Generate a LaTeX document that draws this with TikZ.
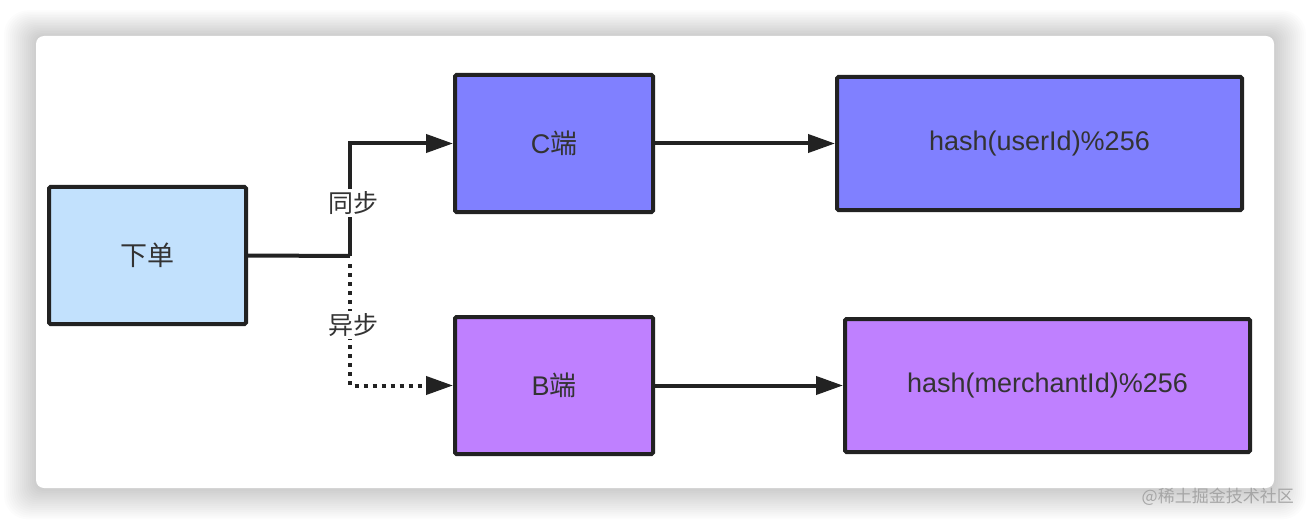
\documentclass[tikz,border=0pt]{standalone}
\usepackage{fontspec}
\setmainfont{Liberation Sans}
\newfontfamily\cjk{Noto Sans CJK SC}
\usetikzlibrary{arrows.meta}
\definecolor{txt}{HTML}{333333}
\definecolor{edge}{HTML}{222222}
\definecolor{lblue}{HTML}{C2E1FD}
\definecolor{cblue}{HTML}{8080FF}
\definecolor{bpurple}{HTML}{BF80FF}
\tikzset{
  box/.style={draw=edge, line width=4pt, rounded corners=1.5pt, text=txt, inner sep=0pt,
    font=\fontsize{27}{32}\selectfont},
  conn/.style={draw=edge, line width=4pt, -{Triangle[length=27pt,width=18pt]}},
  plainconn/.style={draw=edge, line width=4pt},
  lbl/.style={fill=white, text=txt, inner sep=2pt, font=\cjk\fontsize{25}{30}\selectfont},
}
\begin{document}
\begin{tikzpicture}[x=1pt,y=-1pt]
\useasboundingbox (0,0) rectangle (1310,524);
\fill[white] (0,0) rectangle (1310,524);
% card shadow
\foreach \i in {1,...,16}{
  \fill[black, opacity=0.011, rounded corners=8pt+\i pt]
    (36-2*\i,36-1.6*\i) rectangle (1274+2*\i,489+1.9*\i);
}
\fill[white, rounded corners=8pt] (36,36) rectangle (1274,488);
% nodes
\node[box, fill=lblue, minimum width=197pt, minimum height=137pt] (xd) at (147.5,255.5) {\cjk 下单};
\node[box, fill=cblue, minimum width=198pt, minimum height=137pt] (c) at (554,143.5) {C{\cjk 端}};
\node[box, fill=cblue, minimum width=405pt, minimum height=133pt] (hu) at (1039.5,143.5) {hash(userId)\%256};
\node[box, fill=bpurple, minimum width=198pt, minimum height=137pt] (b) at (554,385.5) {B{\cjk 端}};
\node[box, fill=bpurple, minimum width=405pt, minimum height=133pt] (hm) at (1047.5,385.5) {hash(merchantId)\%256};
\coordinate (split) at (350,256);
% connectors
\draw[plainconn] (xd.east) -- (split);
\draw[conn] (split) |- (c.west);
\draw[draw=edge, line width=4pt, dash pattern=on 4pt off 5pt, -{Triangle[length=27pt,width=18pt]}]
  (350,264) |- (b.west);
\draw[conn] (c.east) -- (hu.west |- c.east);
\draw[conn] (b.east) -- (hm.west |- b.east);
\node[lbl] (sync) at (353,203) {同步};
\node[lbl] (async) at (353,325) {异步};
% watermark
\node[text=black!35, font=\cjk\fontsize{17}{20}\selectfont, anchor=east, inner sep=0pt] (wm) at (1294,497) {@稀土掘金技术社区};
\end{tikzpicture}
\end{document}
